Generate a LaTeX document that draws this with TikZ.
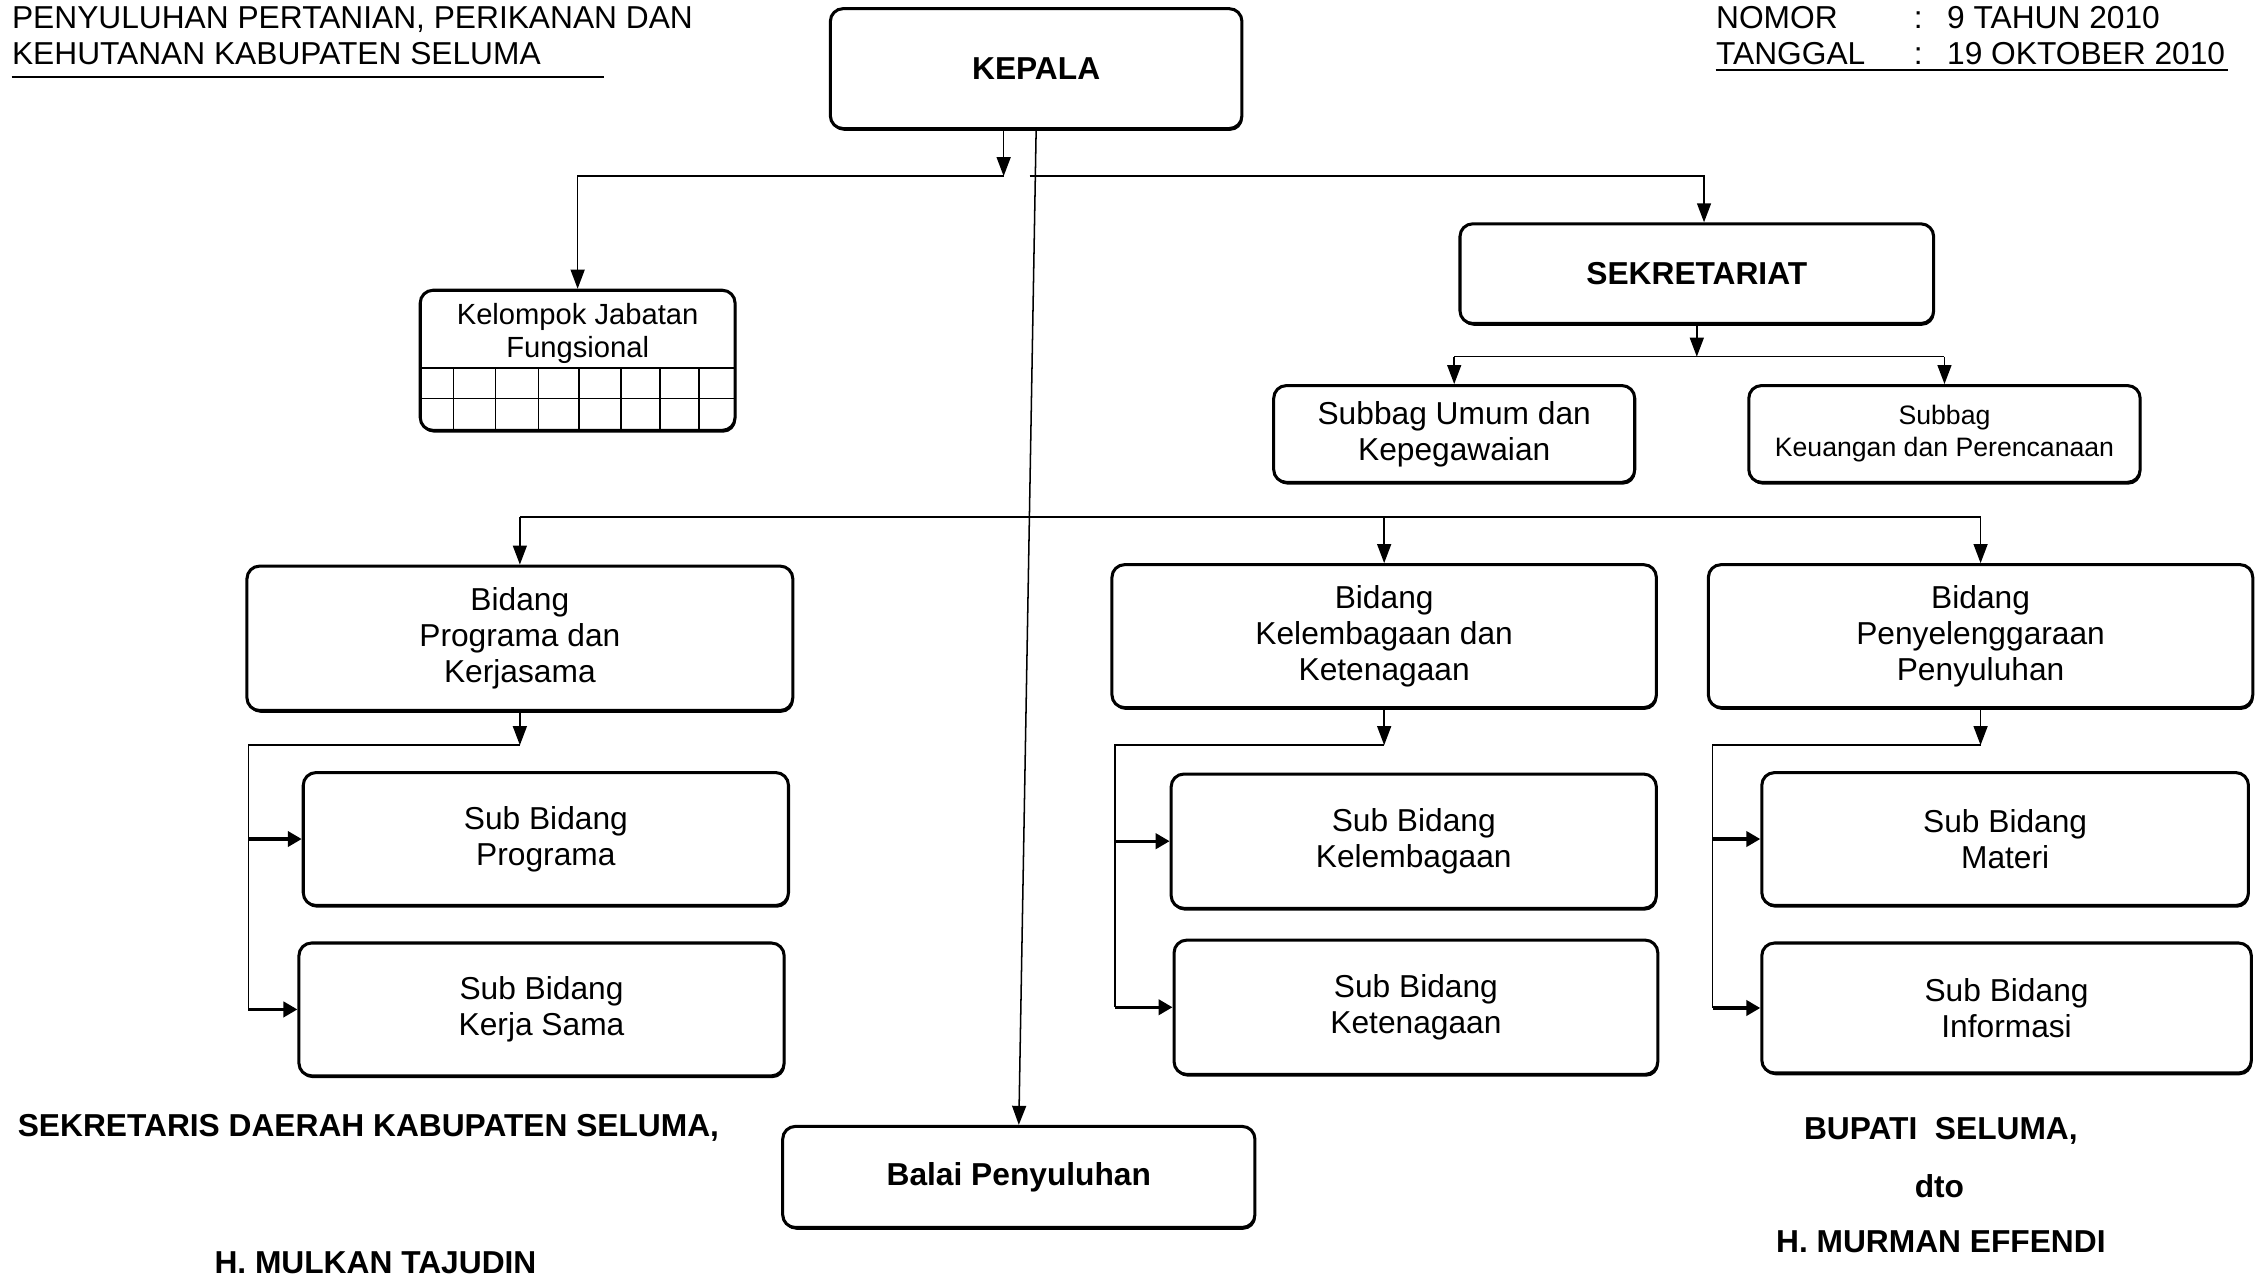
\documentclass[tikz,border=0pt]{standalone}
\usepackage{fontspec}
\setmainfont{Liberation Sans}
\usetikzlibrary{arrows.meta,shadows}

\tikzset{
  box/.style 2 args={draw, rounded corners=5pt, line width=1.2pt, fill=white, align=center,
    minimum width=#1*0.02cm, minimum height=#2*0.02cm, inner sep=0pt,
    font=\fontsize{12.5}{14.3}\selectfont,
    drop shadow={shadow xshift=0.4pt, shadow yshift=-0.9pt, opacity=1, fill=black}},
  tebal/.style={font=\fontsize{12.5}{15}\selectfont\bfseries},
  lbl/.style={font=\fontsize{12.5}{15}\selectfont, inner sep=0pt},
  lblb/.style={lbl, tebal},
  garis/.style={line width=0.6pt},
  arr/.style={garis, -{Triangle[length=7.5pt,width=5.5pt]}},
  arrk/.style={line width=1.3pt, -{Triangle[length=5.5pt,width=6pt]}}
}

\begin{document}
\begin{tikzpicture}[x=0.02cm, y=-0.02cm] % bagan struktur organisasi
  \useasboundingbox (0,0) rectangle (1565,886);

  % kop kiri dan kanan
  \node[lbl, anchor=base west] (kop1) at (8,20) {PENYULUHAN PERTANIAN, PERIKANAN DAN};
  \node[lbl, anchor=base west] (kop2) at (8,45) {KEHUTANAN KABUPATEN SELUMA};
  \draw[line width=0.8pt] (8,53) -- (418,53);
  \node[lbl, anchor=base west] (nomor) at (1188,20) {NOMOR};
  \node[lbl, anchor=base west] (nomorsep) at (1325,20) {:};
  \node[lbl, anchor=base west] (nomorisi) at (1348,20) {9 TAHUN 2010};
  \node[lbl, anchor=base west] (tanggal) at (1188,45) {TANGGAL};
  \node[lbl, anchor=base west] (tanggalsep) at (1325,45) {:};
  \node[lbl, anchor=base west] (tanggalisi) at (1348,45) {19 OKTOBER 2010};
  \draw[line width=0.8pt] (1188,48.5) -- (1543,48.5);

  \node[box={285}{83}, tebal] (kepala) at (717.5,47.5) {KEPALA};

  \node[box={218}{97}] (kjf) at (400,249.5) {};
  \node[lbl, font=\fontsize{11.5}{13}\selectfont, align=center] (kjfteks) at (400,231) {Kelompok Jabatan\\Fungsional};
  \draw[garis] (291,255) -- (509,255) (291,276) -- (509,276);
  \foreach \x in {314,343,373,401,430,457,484}
    \draw[garis] (\x,255) -- (\x,297);

  \node[box={328}{69}, tebal] (sekretariat) at (1175,189.5) {SEKRETARIAT};
  \node[box={250}{67}] (umum) at (1007,300.5) {Subbag Umum dan\\Kepegawaian};
  \node[box={271}{67}, font=\fontsize{10.5}{12.5}\selectfont] (keuangan) at (1346.5,300.5) {Subbag\\Keuangan dan Perencanaan};

  \node[box={378}{100}] (bidprog) at (360,442) {Bidang\\Programa dan\\Kerjasama};
  \node[box={377}{99}] (bidlem) at (958.5,440.5) {Bidang\\Kelembagaan dan\\Ketenagaan};
  \node[box={377}{99}] (bidpen) at (1371.5,440.5) {Bidang\\Penyelenggaraan\\Penyuluhan};

  \node[box={336}{92}] (subprog) at (378,581) {Sub Bidang\\Programa};
  \node[box={336}{92}] (subker) at (375,699) {Sub Bidang\\Kerja Sama};
  \node[box={336}{93}] (sublem) at (979,582.5) {Sub Bidang\\Kelembagaan};
  \node[box={335}{93}] (subten) at (980.5,697.5) {Sub Bidang\\Ketenagaan};
  \node[box={337}{92}] (submat) at (1388.5,581) {Sub Bidang\\Materi};
  \node[box={339}{90}] (subinf) at (1389.5,698) {Sub Bidang\\Informasi};

  \node[box={327}{70}, tebal] (balai) at (705.5,815) {Balai Penyuluhan};

  % garis komando
  \coordinate (cabang) at (695,122);
  \coordinate (cabang2) at (713,122);
  \coordinate (kanan) at (1180,122);
  \draw[arr] (kepala.south -| cabang) -- (cabang);
  \draw[arr] (cabang) -| (kjf.north);
  \draw[arr] (cabang2) -- (kanan) -- (kanan |- sekretariat.north);
  \draw[arr] (kepala.south) -- (balai.north);

  \coordinate (sek) at (1175,247);
  \draw[arr] (sekretariat.south) -- (sek);
  \draw[garis] (umum.north |- sek) -- (keuangan.north |- sek);
  \draw[arr] (umum.north |- sek) -- (umum.north);
  \draw[arr] (keuangan.north |- sek) -- (keuangan.north);

  \coordinate (bid) at (361,358);
  \draw[garis] (bidprog.north |- bid) -- (bidpen.north |- bid);
  \foreach \b in {bidprog,bidlem,bidpen}
    \draw[arr] (\b.north |- bid) -- (\b.north);

  \foreach \b/\r/\s/\t in {bidprog/172/subprog/subker, bidlem/772/sublem/subten, bidpen/1186/submat/subinf}{
    \coordinate (rel) at (\r,516);
    \draw[arr] (\b.south) -- (\b.south |- rel);
    \draw[garis] (\b.south |- rel) -- (rel) -- (rel |- \t.west);
    \draw[arrk] (rel |- \s.west) -- (\s.west);
    \draw[arrk] (rel |- \t.west) -- (\t.west);
  }

  % tanda tangan
  \node[lblb, anchor=base west] (sekda) at (12,787) {SEKRETARIS DAERAH KABUPATEN SELUMA,};
  \node[lblb, anchor=base] (sekdanama) at (260,882) {H. MULKAN TAJUDIN};
  \node[lblb, anchor=base] (bupati) at (1344,789) {BUPATI\ \ SELUMA,};
  \node[lblb, anchor=base] (dto) at (1343,829) {dto};
  \node[lblb, anchor=base] (bupatinama) at (1344,867) {H. MURMAN EFFENDI};
\end{tikzpicture}
\end{document}
